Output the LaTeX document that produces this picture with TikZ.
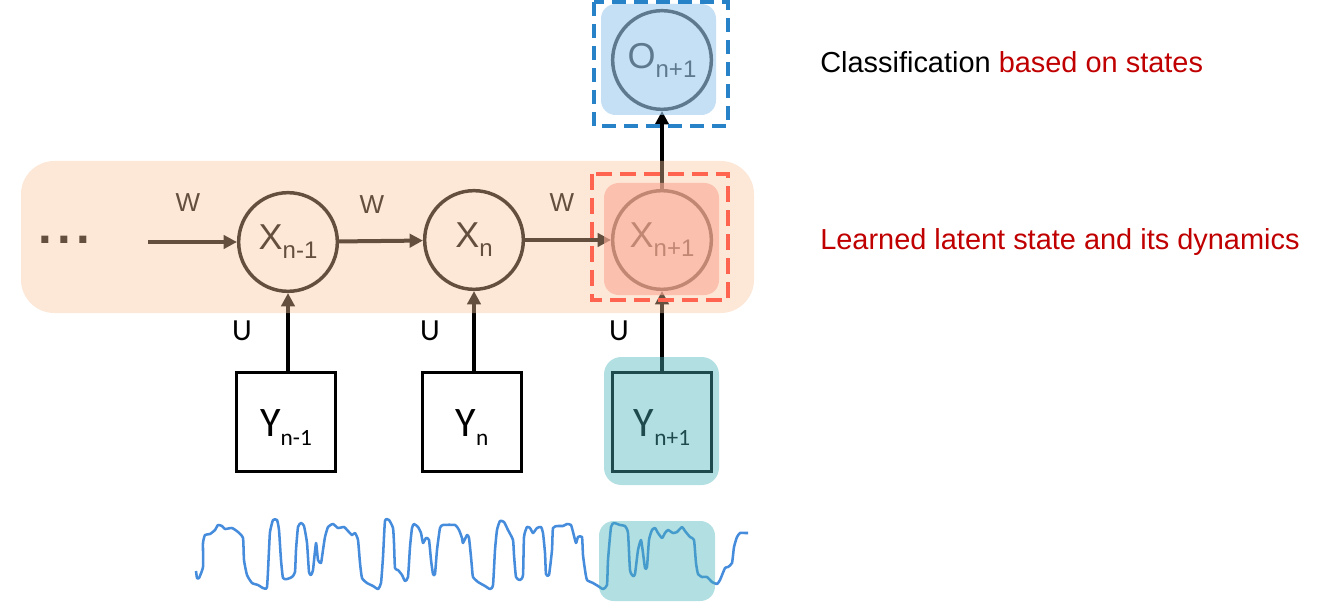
\documentclass[tikz,border=0pt]{standalone}
\usepackage{fontspec}
\setmainfont{Liberation Sans}
\newfontfamily\yfont{Carlito}
\usetikzlibrary{arrows.meta}
\definecolor{bandc}{RGB}{250,195,155}
\definecolor{salmonc}{RGB}{251,170,149}
\definecolor{skyc}{RGB}{158,203,237}
\definecolor{tealc}{RGB}{72,178,185}
\definecolor{reddash}{RGB}{255,100,80}
\definecolor{bluedash}{RGB}{40,130,200}
\definecolor{sigc}{RGB}{70,140,220}
\definecolor{darkred}{RGB}{192,0,0}
\newcommand\xsub[1]{\raisebox{-6.75pt}{\fontsize{18}{18}\selectfont #1}}
\newcommand\ysub[1]{\raisebox{-6.75pt}{\fontsize{17.5}{17.5}\selectfont #1}}

\begin{document}
\begin{tikzpicture}[x=0.75pt,y=-0.75pt,
    state/.style={circle,draw,line width=2.6pt,minimum size=74pt,inner sep=0pt,font=\fontsize{27}{27}\selectfont},
    obs/.style={rectangle,draw,line width=2.5pt,minimum size=74pt,inner sep=0pt,text height=29pt,text depth=6.75pt,font=\yfont\fontsize{31.5}{31.5}\selectfont},
    flow/.style={line width=3pt,-{Triangle[length=10pt,width=10pt]}},
    wlbl/.style={font=\fontsize{19.5}{19.5}\selectfont},
    ulbl/.style={font=\yfont\fontsize{23}{23}\selectfont},
    note/.style={anchor=base west,inner sep=0pt,font=\fontsize{21.7}{21.7}\selectfont}]
    \useasboundingbox (0,0) rectangle (1320,602);

    \node[state] (x1) at (288,242) {X\xsub{n-1}};
    \node[state] (x2) at (474,240) {X\xsub{n}};
    \node[state] (x3) at (662,240) {X\xsub{n+1}};
    \node[state] (o3) at (662,60) {O\xsub{n+1}};
    \node[obs] (y1) at (286,422) {Y\ysub{n-1}};
    \node[obs] (y2) at (472,422) {Y\ysub{n}};
    \node[obs] (y3) at (662,422) {Y\ysub{n+1}};

    \node[font=\bfseries\fontsize{37}{37}\selectfont] (dots) at (64,240) {.\hspace{4pt}.\hspace{4pt}.};
    \coordinate (w0) at (148,242);

    \node[wlbl] (w1) at (188,203) {W};
    \node[wlbl] (w2) at (372,205) {W};
    \node[wlbl] (w3) at (562,203) {W};
    \node[ulbl] (u1) at (242,331) {U};
    \node[ulbl] (u2) at (430,331) {U};
    \node[ulbl] (u3) at (619,331) {U};

    \draw[flow] (w0) -- (x1);
    \draw[flow] (x1) -- (x2);
    \draw[flow] (x2) -- (x3);
    \foreach \i in {1,2,3}
    {
      \draw[flow] (x\i |- y\i.north) -- (x\i.south);
    };
    \draw[flow] (x3) -- (o3);

    \draw[sigc,line width=1.9pt,line join=round] plot[smooth,tension=0.3] coordinates {
      (196,571) (197,578) (199,578) (203,567) (203,543) (205,535) (210,534) (215,530) (218,525) (222,526)
      (225,529) (232,528) (238,532) (243,538) (244,560) (247,575) (252,583) (258,585) (263,588) (267,587)
      (269,550) (270,532) (273,520) (277,520) (279,530) (281,560) (283,578) (287,579) (292,577) (295,572)
      (296,550) (298,527) (301,523) (304,526) (307,543) (309,572) (311,575) (313,570) (316,543) (318,560)
      (321,563) (323,550) (325,537) (328,527) (333,524) (338,528) (344,527) (348,531) (352,535) (355,533)
      (358,540) (360,563) (362,578) (367,583) (373,586) (378,589) (381,583) (383,557) (385,521) (389,520)
      (393,528) (394,543) (395,568) (398,570) (402,575) (405,581) (408,577) (410,547) (412,528) (414,524)
      (418,527) (421,533) (423,543) (426,538) (429,540) (431,560) (433,574) (435,574) (437,550) (440,528)
      (443,525) (455,525) (459,530) (462,538) (463,543) (467,535) (469,538) (471,557) (472,568) (473,577)
      (478,582) (485,586) (490,589) (493,585) (495,550) (497,530) (500,521) (504,522) (508,530) (513,540)
      (514,555) (516,577) (520,580) (523,575) (524,537) (527,527) (530,528) (533,533) (537,528) (541,527)
      (543,533) (545,553) (546,574) (549,575) (552,550) (553,528) (558,526) (563,526) (567,524) (571,525)
      (573,532) (576,543) (578,537) (582,537) (583,555) (585,570) (587,580) (593,583) (598,586) (603,589)
      (607,585) (608,560) (611,527) (614,523) (620,525) (625,526) (628,533) (630,570) (633,576) (635,574)
      (638,550) (641,540) (643,553) (645,568) (647,567) (649,540) (652,530) (655,528) (658,533) (662,538)
      (665,533) (668,530) (673,533) (677,532) (682,527) (685,531) (690,537) (694,540) (696,563) (698,574)
      (702,577) (707,577) (712,582) (717,584) (720,580) (725,568) (728,567) (732,563) (734,547) (737,537)
      (740,533) (745,533) (748,533)};

    \fill[bandc,opacity=0.4,rounded corners=25pt] (21,161) rectangle (754,313);
    \fill[salmonc,opacity=0.62,rounded corners=11pt] (604,183) rectangle (719,295);
    \fill[skyc,opacity=0.6,rounded corners=11pt] (601,4) rectangle (716,115);
    \fill[tealc,opacity=0.42,rounded corners=13pt] (604,357) rectangle (719,485);
    \fill[tealc,opacity=0.42,rounded corners=11pt] (599,521) rectangle (715,601);

    \draw[reddash,line width=2.5pt,dash pattern=on 12pt off 6pt] (592,174) rectangle (728,300);
    \draw[bluedash,line width=3pt,dash pattern=on 10.5pt off 6pt] (594,2) rectangle (728,126);

    \node[note] (cls) at (820,73) {Classification \textcolor{darkred}{based on states}};
    \node[note,darkred] (lat) at (820,250) {Learned latent state and its dynamics};
  \end{tikzpicture}
\end{document}
